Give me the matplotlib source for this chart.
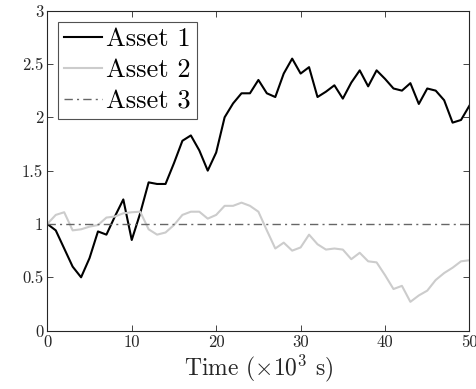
import matplotlib
matplotlib.use("Agg")
import matplotlib.pyplot as plt

plt.rcParams["font.family"] = "serif"
plt.rcParams["font.serif"] = ["cmr10", "DejaVu Serif"]
plt.rcParams["mathtext.fontset"] = "cm"
plt.rcParams["axes.formatter.use_mathtext"] = True

# time in units of 10^3 s
t = list(range(51))

asset1 = [1.00, 0.94, 0.77, 0.60, 0.50, 0.68, 0.93, 0.90, 1.07, 1.23,
          0.85, 1.10, 1.39, 1.375, 1.375, 1.57, 1.78, 1.83, 1.69, 1.50,
          1.67, 2.00, 2.13, 2.225, 2.225, 2.35, 2.225, 2.19, 2.41, 2.55,
          2.41, 2.47, 2.19, 2.24, 2.30, 2.175, 2.325, 2.44, 2.29, 2.44,
          2.36, 2.27, 2.25, 2.32, 2.125, 2.27, 2.25, 2.16, 1.95, 1.975,
          2.11]

asset2 = [1.00, 1.085, 1.11, 0.94, 0.95, 0.975, 0.99, 1.06, 1.07, 1.10,
          1.11, 1.115, 0.95, 0.90, 0.92, 0.99, 1.085, 1.115, 1.115, 1.05,
          1.085, 1.17, 1.17, 1.20, 1.17, 1.115, 0.94, 0.77, 0.825, 0.75,
          0.78, 0.90, 0.81, 0.76, 0.77, 0.76, 0.67, 0.73, 0.65, 0.64,
          0.52, 0.39, 0.42, 0.27, 0.33, 0.375, 0.475, 0.54, 0.59, 0.65,
          0.66]

asset3 = [1.0] * len(t)

xticks = [0, 10, 20, 30, 40, 50]
yticks = [0, 0.5, 1, 1.5, 2, 2.5, 3]
ytick_labels = ["0", "0.5", "1", "1.5", "2", "2.5", "3"]

fig = plt.figure(figsize=(4.76, 3.89), dpi=100)
ax = fig.add_axes([0.0994, 0.150, 0.8869, 0.8227])

ax.plot(t, asset1, color="black", lw=1.5, label="Asset 1")
ax.plot(t, asset2, color="#cccccc", lw=1.5, label="Asset 2")
ax.plot(t, asset3, color="#666666", lw=1.0, linestyle=(0, (6, 3, 1.5, 3)),
        label="Asset 3")

ax.set_xlim(0, 50)
ax.set_ylim(0, 3)
ax.set_xticks(xticks)
ax.set_xticklabels([str(v) for v in xticks])
ax.set_yticks(yticks)
ax.set_yticklabels(ytick_labels)
ax.tick_params(direction="in", top=True, right=True, length=4, width=0.6,
               labelsize=12, colors="#262626", pad=3)
for s in ax.spines.values():
    s.set_color("#262626")
    s.set_linewidth(0.8)

ax.set_xlabel(r"Time ($\times 10^3$ s)", fontsize=17, color="#262626", labelpad=2)

leg = ax.legend(loc="upper left", fontsize=19, frameon=True, fancybox=False,
                handlelength=1.45, handletextpad=0.15, borderpad=0.22,
                labelspacing=0.28, borderaxespad=0.42)
leg.get_frame().set_edgecolor("#262626")
leg.get_frame().set_linewidth(0.8)

fig.savefig("out.png", dpi=100)
